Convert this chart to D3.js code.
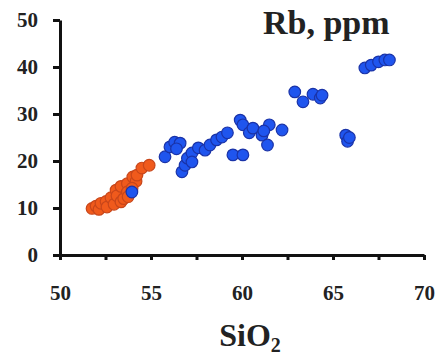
<!DOCTYPE html>
<html>
<head>
<meta charset="utf-8">
<script src="https://cdn.jsdelivr.net/npm/d3@7"></script>
<style>
  body { margin: 0; background: #fff; }
  .axis path, .axis line { stroke: #111; stroke-width: 3; }
  .axis text { font-family: "Liberation Serif", "Times New Roman", serif; font-weight: bold; font-size: 21px; fill: #222; }
</style>
</head>
<body>
<div id="chart"></div>
<script>
// data: [SiO2, Rb ppm]
var orangePts = [
  [51.76, 9.9], [51.98, 10.4], [52.14, 9.7], [52.25, 11.0], [52.53, 11.4], [52.58, 10.2],
  [52.8, 12.2], [52.97, 10.8], [53.08, 13.8], [53.13, 12.6], [53.35, 11.3], [53.35, 14.6],
  [53.5, 12.0], [53.7, 15.2], [53.7, 13.4], [53.74, 12.4], [54.0, 16.6], [54.18, 15.7],
  [54.23, 17.0], [54.5, 18.5], [54.9, 19.1], [53.96, 14.2]
];
var bluePts = [
  [53.95, 13.4], [55.77, 20.9], [56.04, 23.0], [56.3, 24.0], [56.6, 23.8], [56.4, 22.6],
  [56.7, 17.7], [56.87, 19.1], [57.0, 20.6], [57.25, 21.7], [57.25, 19.8], [57.6, 22.8],
  [57.97, 22.3], [58.24, 23.4], [58.6, 24.5], [58.9, 25.1], [59.2, 26.0], [59.5, 21.3],
  [60.05, 21.3], [59.9, 28.7], [60.05, 27.7], [60.4, 26.0], [60.6, 27.0], [61.1, 25.5],
  [61.5, 27.7], [61.4, 23.4], [61.2, 26.4], [62.2, 26.6], [62.9, 34.7], [63.35, 32.6],
  [63.9, 34.2], [64.3, 33.4], [64.4, 34.0], [65.7, 25.5], [65.8, 24.2], [65.9, 25.0],
  [66.75, 39.8], [67.1, 40.4], [67.5, 41.1], [67.85, 41.5], [68.1, 41.5]
];
var xTicks = [50, 52.5, 55, 57.5, 60, 62.5, 65, 67.5, 70];
var yTicks = [0, 10, 20, 30, 40, 50];

var w = 439, h = 359;

var svg = d3.select("#chart")
    .append("svg")
    .attr("width", w)
    .attr("height", h);

// scales
var xScale = d3.scaleLinear().domain([50, 70]).range([60, 424]);
var yScale = d3.scaleLinear().domain([0, 50]).range([255, 20]);

// axes
var xAxis = d3.axisBottom(xScale)
    .tickValues(xTicks)
    .tickSize(5).tickSizeOuter(0).tickPadding(25)
    .tickFormat(function(d){ return d % 5 === 0 ? d : ""; });
var yAxis = d3.axisLeft(yScale)
    .tickValues(yTicks)
    .tickSize(7).tickSizeOuter(0).tickPadding(15);

svg.append("g")
    .attr("class", "axis")
    .attr("transform", "translate(0," + yScale(0) + ")")
    .call(xAxis);
svg.append("g")
    .attr("class", "axis")
    .attr("transform", "translate(" + xScale(50) + ",0)")
    .call(yAxis);

// points
function drawPts(data, fill, stroke) {
  svg.append("g").selectAll("circle")
    .data(data)
    .enter()
    .append("circle")
    .attr("cx", function(d){ return xScale(d[0]); })
    .attr("cy", function(d){ return yScale(d[1]); })
    .attr("r", 5.8)
    .style("fill", fill)
    .style("stroke", stroke)
    .style("stroke-width", 1.2);
}
drawPts(orangePts, "#f05a1c", "#c8461a");
drawPts(bluePts, "#1f55ee", "#1a33a8");

// labels
svg.append("text")
    .attr("x", 263).attr("y", 34)
    .style("font-family", "Liberation Serif, Times New Roman, serif")
    .style("font-weight", "bold").style("font-size", "34px").style("fill", "#222")
    .text("Rb, ppm");

var xl = svg.append("text")
    .attr("x", 250).attr("y", 346)
    .attr("text-anchor", "middle")
    .style("font-family", "Liberation Serif, Times New Roman, serif")
    .style("font-weight", "bold").style("font-size", "32px").style("fill", "#222");
xl.append("tspan").text("SiO");
xl.append("tspan").attr("dy", 6).style("font-size", "20px").text("2");
</script>
</body>
</html>
